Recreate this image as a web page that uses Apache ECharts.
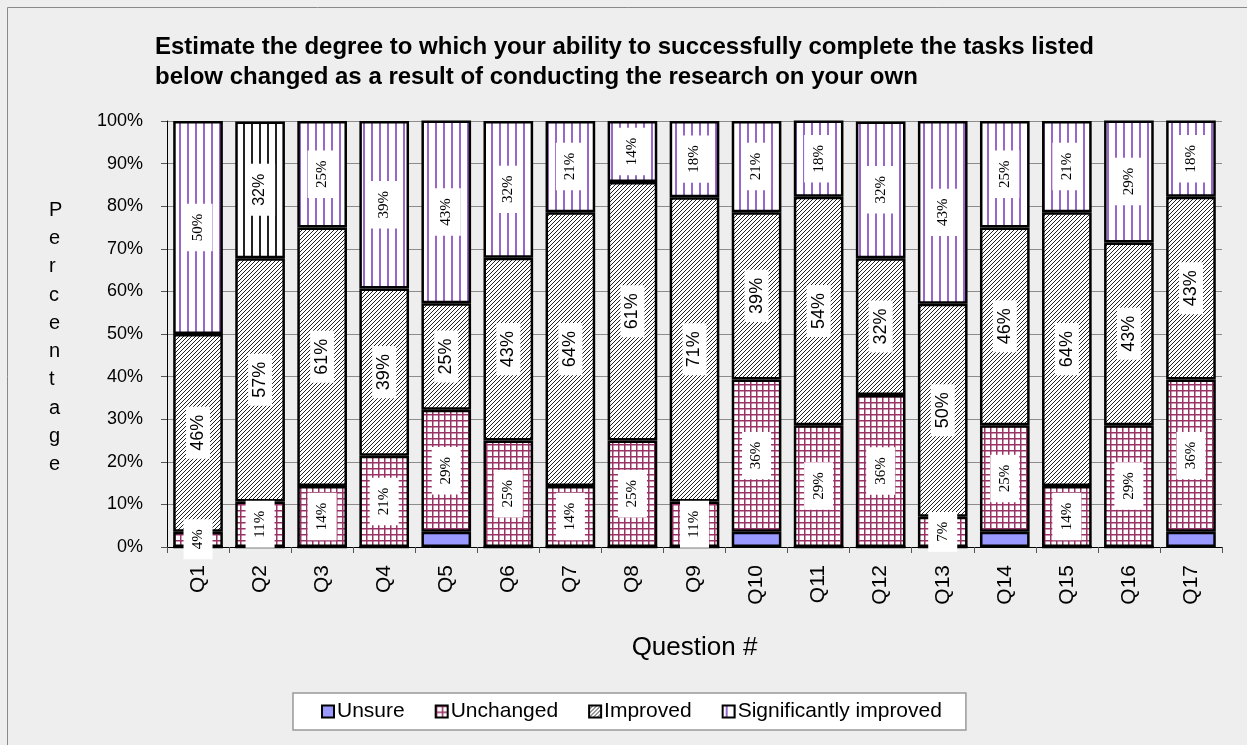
<!DOCTYPE html>
<html>
<head>
<meta charset="utf-8">
<title>Research ability chart</title>
<script src="https://cdn.jsdelivr.net/npm/echarts@6/dist/echarts.min.js"></script>
<style>
  html, body { margin: 0; padding: 0; background: #eeeeee; }
  #chart { width: 1247px; height: 745px; }
</style>
</head>
<body>
<div id="chart"></div>
<script>
// data (percent of respondents)
var questions = ['Q1','Q2','Q3','Q4','Q5','Q6','Q7','Q8','Q9','Q10','Q11','Q12','Q13','Q14','Q15','Q16','Q17'];
var unsure      = [0, 0, 0, 0, 3.6, 0, 0, 0, 0, 3.6, 0, 0, 0, 3.6, 0, 0, 3.6];
var unchanged   = [3.6, 10.7, 14.3, 21.4, 28.6, 25.0, 14.3, 25.0, 10.7, 35.7, 28.6, 35.7, 7.1, 25.0, 14.3, 28.6, 35.7];
var improved    = [46.4, 57.1, 60.7, 39.3, 25.0, 42.9, 64.3, 60.7, 71.4, 39.3, 53.6, 32.1, 50.0, 46.4, 64.3, 42.9, 42.9];
var sigImproved = [50.0, 32.1, 25.0, 39.3, 42.9, 32.1, 21.4, 14.3, 17.9, 21.4, 17.9, 32.1, 42.9, 25.0, 21.4, 28.6, 17.9];
var yTicks = ['0%','10%','20%','30%','40%','50%','60%','70%','80%','90%','100%'];

// little canvas tiles for the Excel style fill patterns
function makePattern(w, h, draw) {
  var c = document.createElement('canvas');
  c.width = w; c.height = h;
  var ctx = c.getContext('2d');
  ctx.fillStyle = '#ffffff';
  ctx.fillRect(0, 0, w, h);
  draw(ctx);
  return { image: c, repeat: 'repeat' };
}
var gridFill = makePattern(6, 6, function (ctx) {
  ctx.fillStyle = '#993366';
  ctx.fillRect(0, 0, 6, 1.5);
  ctx.fillRect(0, 0, 1.5, 6);
});
var hatchFill = makePattern(8, 8, function (ctx) {
  ctx.strokeStyle = '#222';
  ctx.lineWidth = 1;
  for (var k = -8; k <= 16; k += 4) {
    ctx.beginPath();
    ctx.moveTo(k, 8);
    ctx.lineTo(k + 8, 0);
    ctx.stroke();
  }
});
var purpleStripe = makePattern(8, 8, function (ctx) {
  ctx.fillStyle = '#9966cc';
  ctx.fillRect(3, 0, 2, 8);
});
var blackStripe = makePattern(8, 8, function (ctx) {
  ctx.fillStyle = '#222';
  ctx.fillRect(3, 0, 2, 8);
});

var serif = '"Liberation Serif", "Times New Roman", serif';
var sans = '"Liberation Sans", Arial, sans-serif';

function pctLabel(p) {
  return p.value > 0 ? Math.round(p.value) + '%' : '';
}
function labelStyle(font, size, pad) {
  return {
    show: true,
    position: 'inside',
    rotate: 90,
    formatter: pctLabel,
    fontFamily: font,
    fontSize: size,
    color: '#000',
    backgroundColor: '#ffffff',
    padding: pad
  };
}
var barBorder = { borderColor: '#000', borderWidth: 2.5 };

var sigData = sigImproved.map(function (v, i) {
  if (i === 1) {
    // Q2 top segment is drawn with black stripes in the original
    return { value: v, itemStyle: { color: blackStripe }, label: { fontFamily: sans, fontSize: 16 } };
  }
  return v;
});

var chart = echarts.init(document.getElementById('chart'));
var option = {
  backgroundColor: '#eeeeee',
  animation: false,
  title: {
    text: 'Estimate the degree to which your ability to successfully complete the tasks listed\nbelow changed as a result of conducting the research on your own',
    left: 150,
    top: 27,
    textStyle: { fontFamily: sans, fontSize: 24, fontWeight: 'bold', color: '#000', lineHeight: 30 }
  },
  graphic: [
    { type: 'rect', shape: { x: 7.5, y: 7.5, width: 1260, height: 760 }, style: { fill: 'none', stroke: '#8a8a8a', lineWidth: 1 } },
    { type: 'text', left: 49, top: 196, style: {
        text: 'P\ne\nr\nc\ne\nn\nt\na\ng\ne', fontFamily: sans, fontSize: 20, lineHeight: 28.3, fill: '#000', align: 'center' } }
  ],
  legend: {
    left: 293,
    top: 693,
    padding: [8, 24, 8, 28],
    backgroundColor: '#ffffff',
    borderColor: '#999',
    borderWidth: 1.5,
    itemWidth: 12,
    itemHeight: 12,
    itemGap: 30,
    icon: 'rect',
    textStyle: { fontFamily: sans, fontSize: 21, color: '#000', padding: [0, 0, 0, -2] },
    itemStyle: { borderColor: '#000', borderWidth: 2 },
    data: ['Unsure', 'Unchanged', 'Improved', 'Significantly improved']
  },
  grid: { left: 167, right: 25, top: 121, bottom: 198 },
  xAxis: {
    type: 'category',
    data: questions,
    name: 'Question #',
    nameLocation: 'middle',
    nameGap: 88,
    nameTextStyle: { fontFamily: sans, fontSize: 26, color: '#000' },
    axisLine: { lineStyle: { color: '#000', width: 1 } },
    axisTick: { show: true, length: 6, lineStyle: { color: '#555' } },
    axisLabel: { rotate: 90, margin: 18, fontFamily: sans, fontSize: 21, color: '#000' }
  },
  yAxis: {
    type: 'value',
    min: 0,
    max: 100,
    interval: 10,
    axisLine: { show: true, lineStyle: { color: '#000', width: 1 } },
    axisTick: { show: true, length: 6, lineStyle: { color: '#555' } },
    splitLine: { lineStyle: { color: '#8c8c8c', width: 1 } },
    axisLabel: {
      margin: 24,
      fontFamily: sans,
      fontSize: 18,
      color: '#000',
      formatter: function (v) { return yTicks[Math.round(v / 10)]; }
    }
  },
  series: [
    { name: 'Unsure', type: 'bar', stack: 'all', barWidth: '80%', data: unsure,
      itemStyle: Object.assign({ color: '#9999ff' }, barBorder), label: { show: false } },
    { name: 'Unchanged', type: 'bar', stack: 'all', data: unchanged,
      itemStyle: Object.assign({ color: gridFill }, barBorder), label: labelStyle(serif, 15, [7, 10]) },
    { name: 'Improved', type: 'bar', stack: 'all', data: improved,
      itemStyle: Object.assign({ color: hatchFill }, barBorder), label: labelStyle(sans, 18, [3, 8]) },
    { name: 'Significantly improved', type: 'bar', stack: 'all', data: sigData,
      itemStyle: Object.assign({ color: purpleStripe }, barBorder), label: labelStyle(serif, 15, [7, 10]) }
  ]
};
chart.setOption(option);
</script>
</body>
</html>
